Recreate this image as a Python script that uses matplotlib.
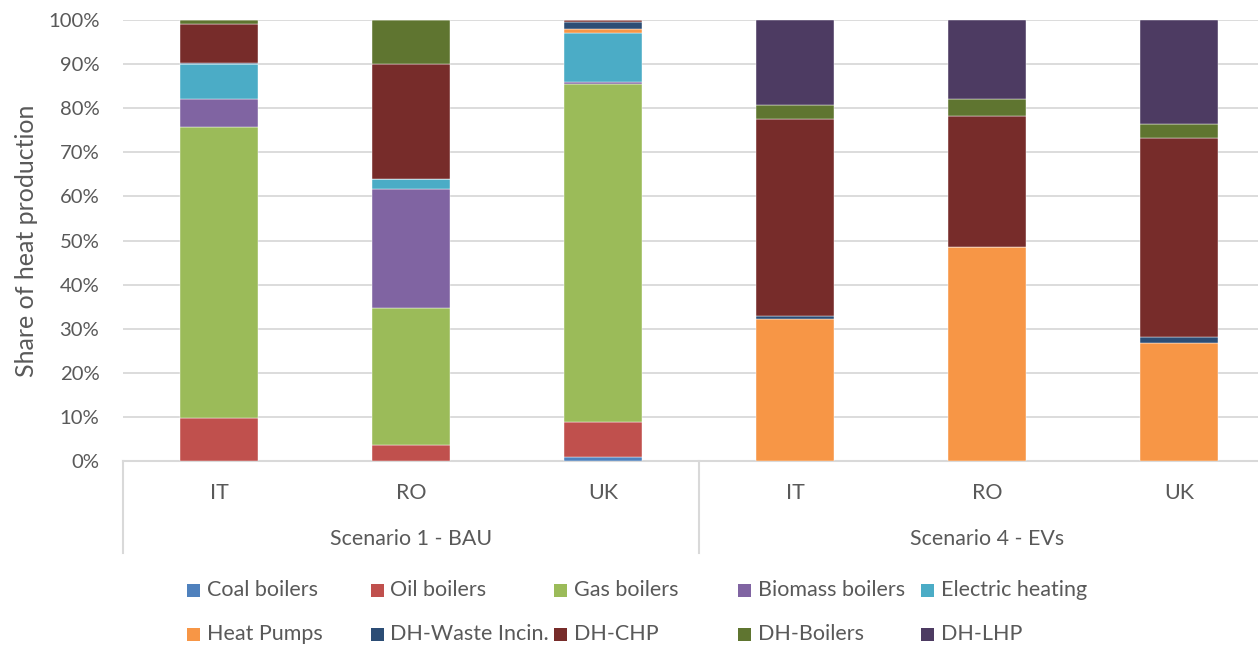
import matplotlib
matplotlib.use('Agg')
import matplotlib.pyplot as plt
from matplotlib.patches import Rectangle
import numpy as np

plt.rcParams['font.family'] = ['Lato', 'DejaVu Sans']

# bars: scenario 1 (IT, RO, UK) then scenario 4 (IT, RO, UK)
countries = ['IT', 'RO', 'UK', 'IT', 'RO', 'UK']
scenarios = ['Scenario 1 - BAU', 'Scenario 4 - EVs']

series_names = ['Coal boilers', 'Oil boilers', 'Gas boilers', 'Biomass boilers',
                'Electric heating', 'Heat Pumps', 'DH-Waste Incin.', 'DH-CHP',
                'DH-Boilers', 'DH-LHP']
coal = [0, 0, 0.9, 0, 0, 0]
oil = [9.8, 3.6, 7.9, 0, 0, 0]
gas = [65.9, 31.0, 76.7, 0, 0, 0]
biomass = [6.4, 27.1, 0.4, 0, 0, 0]
electric = [7.9, 2.2, 11.2, 0, 0, 0]
heat_pumps = [0, 0, 0.9, 32.3, 48.5, 26.8]
dh_waste = [0.3, 0, 1.5, 0.5, 0, 1.3]
dh_chp = [8.8, 26.1, 0.4, 44.7, 29.7, 45.1]
dh_boilers = [0.9, 10.0, 0.1, 3.2, 3.8, 3.2]
dh_lhp = [0, 0, 0, 19.3, 18.0, 23.6]

colors = ['#4F81BD', '#C0504D', '#9BBB59', '#8064A2', '#4BACC6',
          '#F79646', '#2C4D75', '#772C2A', '#5F7530', '#4D3B62']

data = [coal, oil, gas, biomass, electric, heat_pumps, dh_waste, dh_chp, dh_boilers, dh_lhp]

fig = plt.figure(figsize=(12.58, 6.48), dpi=100)
ax = fig.add_axes([123/1258, 1 - 461/648, 1152/1258, 441/648])

x = np.arange(len(countries))
bottom = np.zeros(len(countries))
for vals, col in zip(data, colors):
    v = np.array(vals) / 100
    ax.bar(x, v, 0.406, bottom=bottom, color=col, edgecolor='white', linewidth=0.3, zorder=3)
    bottom += v

ax.set_xlim(-0.5, 5.5)
ax.set_ylim(0, 1)
ax.set_yticks(np.arange(0, 1.01, 0.1))
ax.set_yticklabels([f'{int(round(t*100))}%' for t in np.arange(0, 1.01, 0.1)])
ax.tick_params(axis='y', length=0, pad=17, labelsize=14.6, labelcolor='#595959')
ax.set_xticks([])
ax.grid(axis='y', color='#D9D9D9', linewidth=1.3, zorder=0)
for s in ['top', 'right', 'left']:
    ax.spines[s].set_visible(False)
ax.spines['bottom'].set_color('#D9D9D9')
ax.spines['bottom'].set_linewidth(1.5)
ax.set_ylabel('Share of heat production', fontsize=18, color='#595959', labelpad=7)

# two-level category axis
tr = ax.get_xaxis_transform()
for i, c in enumerate(countries):
    ax.text(i, -0.072, c, transform=tr, ha='center', va='center', fontsize=15.4, color='#595959')
for j, s in enumerate(scenarios):
    ax.text(3 * j + 1, -0.176, s, transform=tr, ha='center', va='center', fontsize=15.4, color='#595959')
for xs in [-0.5, 2.5]:
    ax.plot([xs, xs], [0, -0.209], transform=tr, color='#D9D9D9', linewidth=1.5, clip_on=False)

# legend laid out in two rows of five equal-width columns
for k, (name, col) in enumerate(zip(series_names, colors)):
    row, colidx = divmod(k, 5)
    px = 187 + colidx * 183.5
    py = 590 + row * 44
    fig.patches.append(Rectangle((px / 1258, 1 - (py + 6.5) / 648), 13 / 1258, 13 / 648,
                                 transform=fig.transFigure, facecolor=col, edgecolor='none'))
    fig.text((px + 20) / 1258, 1 - py / 648, name, ha='left', va='center',
             fontsize=15.5, color='#595959')

fig.savefig('out.png', dpi=100)
